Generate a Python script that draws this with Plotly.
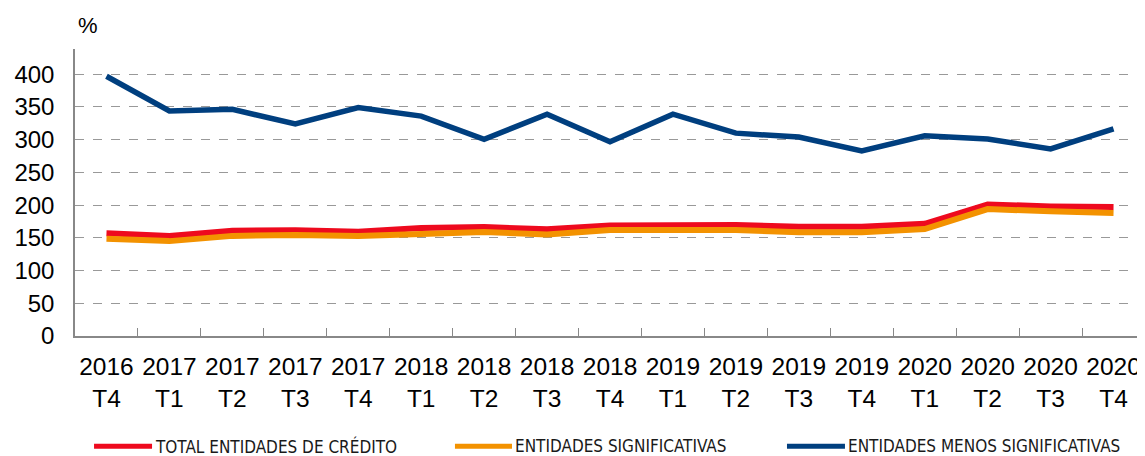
import plotly.graph_objects as go

categories = ["2016<br>T4", "2017<br>T1", "2017<br>T2", "2017<br>T3", "2017<br>T4",
              "2018<br>T1", "2018<br>T2", "2018<br>T3", "2018<br>T4",
              "2019<br>T1", "2019<br>T2", "2019<br>T3", "2019<br>T4",
              "2020<br>T1", "2020<br>T2", "2020<br>T3", "2020<br>T4"]

total_entidades = [157, 153, 161, 161.5, 159.5, 165, 166.5, 163, 169, 169.5, 169.5, 167, 167, 171.5, 201, 198, 197]
significativas = [148.5, 145, 153, 154.5, 153, 157, 159, 155, 162, 162, 162, 158.5, 158.5, 163.5, 194, 190.5, 188]
menos_significativas = [397, 344, 346.5, 324, 349, 336, 300.5, 339, 297, 339, 310, 304, 283, 306, 301, 286, 316.5]

names = ["TOTAL ENTIDADES DE CRÉDITO", "ENTIDADES SIGNIFICATIVAS", "ENTIDADES MENOS SIGNIFICATIVAS"]
colors = ["#EE0A1E", "#F39200", "#003F7F"]
widths = [6, 6, 5.5]

fig = go.Figure()
for name, vals, col, w in zip(names, [total_entidades, significativas, menos_significativas], colors, widths):
    fig.add_trace(go.Scatter(x=categories, y=vals, name=name, mode="lines",
                             line=dict(color=col, width=w), showlegend=False))

# legend drawn as keys + labels below the plot (paper coordinates)
legend_key_x = [(0.0178, 0.0720), (0.3551, 0.4084), (0.6654, 0.7196)]
legend_y = -0.384
shapes = []
annotations = []
for (x0, x1), name, col in zip(legend_key_x, names, colors):
    shapes.append(dict(type="line", xref="paper", yref="paper", x0=x0, x1=x1,
                       y0=legend_y, y1=legend_y, line=dict(color=col, width=5)))
    annotations.append(dict(text=name, xref="paper", yref="paper", x=x1 + 0.0005, y=legend_y,
                            xanchor="left", yanchor="middle", showarrow=False,
                            font=dict(family="DejaVu Sans Condensed, sans-serif", size=17, color="#1a1a1a")))
annotations.append(dict(text="%", xref="paper", yref="paper", x=0.012, y=1.0835,
                        xanchor="center", yanchor="middle", showarrow=False,
                        font=dict(size=22, family="Liberation Sans, Arial, sans-serif")))

# page has an 8px body margin; figure is sized so the page view is 1145x456
fig.update_layout(
    width=1137, height=448,
    margin=dict(l=67, r=0, t=41, b=119.5),
    paper_bgcolor="white", plot_bgcolor="white",
    font=dict(family="Liberation Sans, Arial, sans-serif", color="#000000", size=24),
    showlegend=False,
    shapes=shapes,
    annotations=annotations,
)
fig.update_xaxes(type="category", range=[-0.5, 16.5], showline=True, linecolor="#888888", linewidth=1.5,
                 ticks="inside", tickson="boundaries", ticklen=8, tickcolor="#888888", tickwidth=1,
                 showgrid=False, tickfont=dict(size=24.5), tickangle=0, automargin=False,
                 ticklabelstandoff=8)
fig.update_yaxes(range=[0, 438.6], tickvals=[0, 50, 100, 150, 200, 250, 300, 350, 400],
                 showline=True, linecolor="#888888", linewidth=1.5, ticks="",
                 showgrid=True, gridcolor="#999999", griddash="dash", gridwidth=1,
                 zeroline=False, tickfont=dict(size=24), ticklabelstandoff=14, automargin=False)

fig.write_html("out.html")
